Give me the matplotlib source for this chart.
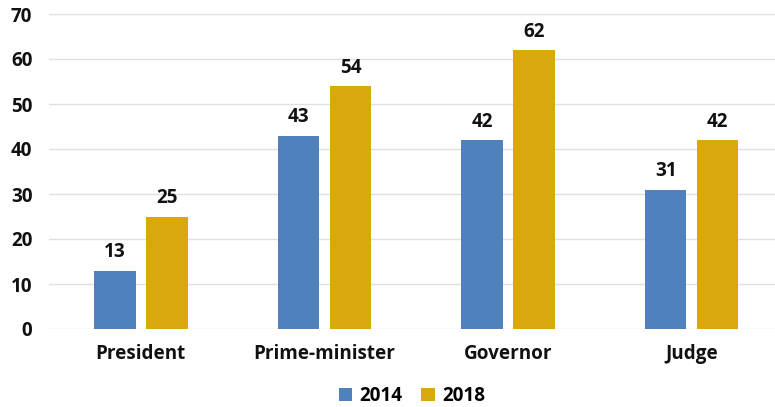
import matplotlib
matplotlib.use("Agg")
import matplotlib.pyplot as plt
import numpy as np

categories = ["President", "Prime-minister", "Governor", "Judge"]
series_names = ["2014", "2018"]
values_2014 = [13, 43, 42, 31]
values_2018 = [25, 54, 62, 42]
yticks = [0, 10, 20, 30, 40, 50, 60, 70]

colors = ["#4F81BD", "#D8A80C"]
plt.rcParams['font.family'] = ['Open Sans', 'DejaVu Sans']
fs = 13.6

fig = plt.figure(figsize=(7.75, 4.07), dpi=100)
ax = fig.add_axes([49/775, (407-329)/407, (775-49)/775, (329-14)/407])

x = np.arange(len(categories))
w = 0.226
off = 0.1415
b1 = ax.bar(x - off, values_2014, w, color=colors[0], label=series_names[0], zorder=3)
b2 = ax.bar(x + off, values_2018, w, color=colors[1], label=series_names[1], zorder=3)

for bars in (b1, b2):
    for r in bars:
        ax.annotate(f"{int(r.get_height())}", (r.get_x() + r.get_width()/2, r.get_height()),
                    xytext=(0, 6), textcoords="offset points", ha="center", va="bottom",
                    fontsize=fs, fontweight="bold", color="#111111")

ax.set_xlim(-0.5, 3.454)
ax.set_ylim(0, 70)
ax.set_yticks(yticks)
ax.set_xticks(x)
ax.set_xticklabels(categories, fontsize=fs, fontweight="bold")
for lab in ax.get_yticklabels():
    lab.set_fontsize(fs)
    lab.set_fontweight("bold")
ax.tick_params(length=0, colors="#111111")
ax.tick_params(axis="x", pad=11)
ax.tick_params(axis="y", pad=12)
ax.grid(axis="y", color="#E0E0E0", linewidth=1, zorder=0)
for s in ax.spines.values():
    s.set_visible(False)

leg = ax.legend(loc="center", bbox_to_anchor=(0.5, (407-396 - (407-329))/(329-14)),
                ncol=2, frameon=False, handlelength=0.7, handleheight=0.7,
                handletextpad=0.4, columnspacing=1.0,
                prop={"weight": "bold", "size": fs})

fig.savefig("out.png", dpi=100)
